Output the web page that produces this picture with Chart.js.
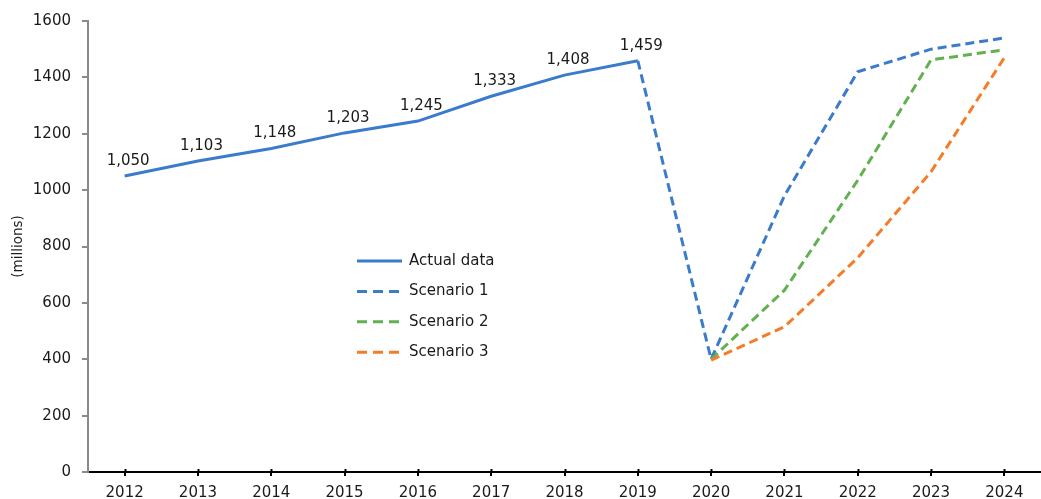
<!DOCTYPE html>
<html>
<head>
<meta charset="utf-8">
<style>
  html, body { margin: 0; padding: 0; background: #fff; }
  #wrap { width: 1041px; height: 499px; position: relative; }
</style>
<script src="https://cdn.jsdelivr.net/npm/chart.js@4/dist/chart.umd.min.js"></script>
</head>
<body>
<div id="wrap"><canvas id="c" width="1041" height="499"></canvas></div>
<script>
// Years on the horizontal axis
const years = ['2012','2013','2014','2015','2016','2017','2018','2019','2020','2021','2022','2023','2024'];
// Observed passenger totals (millions)
const actualData = [1050, 1103, 1148, 1203, 1245, 1333, 1408, 1459, null, null, null, null, null];
// Recovery scenarios
const scenario1 = [null, null, null, null, null, null, null, 1459, 400, 980, 1420, 1500, 1540];
const scenario2 = [null, null, null, null, null, null, null, null, 400, 645, 1035, 1462, 1498];
const scenario3 = [null, null, null, null, null, null, null, null, 397, 515, 760, 1065, 1470];
// Y-axis ticks
const yTicks = [0, 200, 400, 600, 800, 1000, 1200, 1400, 1600];
const yAxisTitle = '(millions)';

const BLUE = '#3A7BCB';
const GREEN = '#62B04F';
const ORANGE = '#F57C28';
const FONT = '"DejaVu Sans", sans-serif';
const TEXT = '#1a1a1a';
const DASH = [9, 5];

// Value labels above the actual-data points
const valueLabels = {
  id: 'valueLabels',
  afterDatasetsDraw(chart) {
    const ctx = chart.ctx;
    const meta = chart.getDatasetMeta(0);
    ctx.save();
    ctx.font = '15px ' + FONT;
    ctx.fillStyle = TEXT;
    ctx.textAlign = 'center';
    ctx.textBaseline = 'middle';
    meta.data.forEach((pt, i) => {
      const v = actualData[i];
      if (v == null) return;
      ctx.fillText(v.toLocaleString('en-US'), pt.x + 3.5, pt.y - 15);
    });
    ctx.restore();
  }
};

// Inner halves of the x-axis tick marks and the rotated axis title
const axisExtras = {
  id: 'axisExtras',
  afterDraw(chart) {
    const ctx = chart.ctx;
    const x = chart.scales.x;
    const y = chart.scales.y;
    ctx.save();
    ctx.strokeStyle = '#000';
    ctx.lineWidth = 2;
    years.forEach((_, i) => {
      const px = Math.round(x.getPixelForValue(i)) + 0.5;
      ctx.beginPath();
      ctx.moveTo(px, y.bottom - 3);
      ctx.lineTo(px, y.bottom + 1);
      ctx.stroke();
    });
    ctx.translate(18, (y.top + y.bottom) / 2);
    ctx.rotate(-Math.PI / 2);
    ctx.font = '13.5px ' + FONT;
    ctx.fillStyle = TEXT;
    ctx.textAlign = 'center';
    ctx.textBaseline = 'middle';
    ctx.fillText(yAxisTitle, 0, 0);
    ctx.restore();
  }
};

// Legend drawn inside the plot area
const innerLegend = {
  id: 'innerLegend',
  afterDraw(chart) {
    const ctx = chart.ctx;
    const items = chart.data.datasets;
    const x0 = 357, x1 = 402, tx = 409, top = 261, step = 30.4;
    ctx.save();
    ctx.font = '15px ' + FONT;
    ctx.fillStyle = TEXT;
    ctx.textBaseline = 'middle';
    items.forEach((ds, i) => {
      const yy = top + i * step;
      ctx.strokeStyle = ds.borderColor;
      ctx.lineWidth = 3;
      ctx.setLineDash(ds.borderDash && ds.borderDash.length ? [10, 6] : []);
      ctx.beginPath();
      ctx.moveTo(x0, yy);
      ctx.lineTo(x1, yy);
      ctx.stroke();
      ctx.setLineDash([]);
      ctx.fillText(ds.label, tx, yy);
    });
    ctx.restore();
  }
};

new Chart(document.getElementById('c'), {
  type: 'line',
  data: {
    labels: years,
    datasets: [
      { label: 'Actual data', data: actualData, borderColor: BLUE, borderWidth: 3, pointRadius: 0, order: 3, spanGaps: false },
      { label: 'Scenario 1', data: scenario1, borderColor: BLUE, borderWidth: 3, borderDash: DASH, pointRadius: 0, order: 2 },
      { label: 'Scenario 2', data: scenario2, borderColor: GREEN, borderWidth: 3, borderDash: DASH, pointRadius: 0, order: 1 },
      { label: 'Scenario 3', data: scenario3, borderColor: ORANGE, borderWidth: 3, borderDash: DASH, pointRadius: 0, order: 0 }
    ]
  },
  options: {
    responsive: false,
    animation: false,
    devicePixelRatio: 1,
    layout: { padding: { top: 21, right: 0, left: 0, bottom: 0 } },
    plugins: { legend: { display: false }, tooltip: { enabled: false } },
    elements: { line: { tension: 0, borderCapStyle: 'butt' } },
    scales: {
      x: {
        offset: true,
        border: { display: true, color: '#000', width: 2 },
        grid: { display: true, drawOnChartArea: false, drawTicks: true, tickLength: 4, color: '#000', lineWidth: 2 },
        ticks: { font: { family: FONT, size: 15 }, color: TEXT, padding: 8, maxRotation: 0, autoSkip: false },
        afterFit(scale) { scale.height = 27; }
      },
      y: {
        min: 0, max: 1600,
        border: { display: true, color: '#8a8a8a', width: 2 },
        grid: { display: true, drawOnChartArea: false, drawTicks: true, tickLength: 6, color: '#8a8a8a', lineWidth: 2 },
        afterBuildTicks(scale) { scale.ticks = yTicks.map(v => ({ value: v })); },
        ticks: { font: { family: FONT, size: 15 }, color: TEXT, padding: 11, callback: v => String(v) },
        afterFit(scale) { scale.width = 88; }
      }
    }
  },
  plugins: [valueLabels, axisExtras, innerLegend]
});
</script>
</body>
</html>
